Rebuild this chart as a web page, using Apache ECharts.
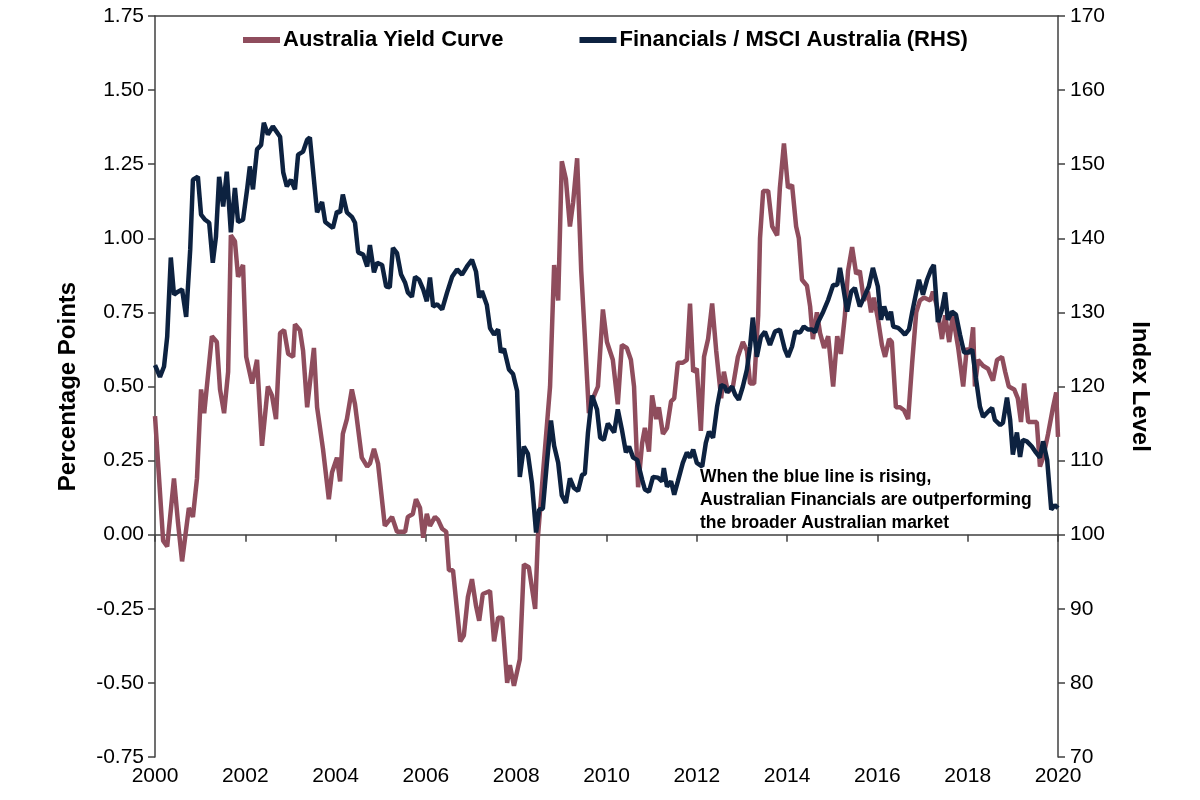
<!DOCTYPE html>
<html>
<head>
<meta charset="utf-8">
<script src="https://cdn.jsdelivr.net/npm/echarts@6/dist/echarts.min.js"></script>
<style>
html,body{margin:0;padding:0;background:#fff;}
#chart{width:1200px;height:800px;}
</style>
</head>
<body>
<div id="chart"></div>
<script>
// Australia Yield Curve (LHS, percentage points)
const yieldDates = [2000.00,2000.18,2000.27,2000.42,2000.51,2000.60,2000.75,2000.84,2000.93,2001.02,2001.09,2001.26,2001.37,2001.44,2001.53,2001.62,2001.68,2001.77,2001.84,2001.95,2002.02,2002.15,2002.26,2002.37,2002.50,2002.59,2002.68,2002.77,2002.86,2002.95,2003.06,2003.10,2003.21,2003.28,2003.37,2003.52,2003.59,2003.72,2003.85,2003.92,2004.03,2004.10,2004.16,2004.25,2004.36,2004.43,2004.58,2004.70,2004.76,2004.85,2004.94,2005.09,2005.25,2005.36,2005.54,2005.60,2005.71,2005.78,2005.87,2005.94,2006.02,2006.09,2006.20,2006.27,2006.36,2006.45,2006.51,2006.60,2006.76,2006.84,2006.93,2007.02,2007.11,2007.18,2007.26,2007.42,2007.51,2007.60,2007.69,2007.80,2007.86,2007.95,2008.08,2008.17,2008.28,2008.42,2008.48,2008.59,2008.75,2008.84,2008.93,2009.01,2009.10,2009.19,2009.26,2009.35,2009.44,2009.52,2009.61,2009.70,2009.81,2009.92,2010.01,2010.14,2010.25,2010.34,2010.45,2010.54,2010.61,2010.70,2010.79,2010.85,2010.94,2011.01,2011.10,2011.16,2011.25,2011.34,2011.43,2011.50,2011.58,2011.69,2011.78,2011.85,2011.92,2012.00,2012.09,2012.16,2012.25,2012.34,2012.43,2012.54,2012.60,2012.69,2012.80,2012.91,2013.02,2013.11,2013.18,2013.27,2013.36,2013.40,2013.47,2013.58,2013.67,2013.78,2013.84,2013.93,2014.02,2014.11,2014.20,2014.26,2014.33,2014.44,2014.51,2014.57,2014.66,2014.73,2014.82,2014.91,2015.02,2015.11,2015.19,2015.28,2015.35,2015.44,2015.53,2015.61,2015.70,2015.79,2015.86,2015.92,2016.01,2016.10,2016.17,2016.26,2016.32,2016.41,2016.50,2016.59,2016.68,2016.77,2016.86,2016.94,2017.03,2017.17,2017.23,2017.32,2017.43,2017.50,2017.59,2017.67,2017.79,2017.90,2017.98,2018.05,2018.12,2018.16,2018.23,2018.34,2018.45,2018.56,2018.65,2018.76,2018.83,2018.91,2019.03,2019.11,2019.18,2019.25,2019.34,2019.45,2019.53,2019.60,2019.67,2019.78,2019.89,2019.96,2020.00];
const yieldValues = [0.40,-0.02,-0.04,0.19,0.04,-0.09,0.09,0.06,0.19,0.49,0.41,0.67,0.65,0.49,0.41,0.55,1.01,0.99,0.87,0.91,0.60,0.51,0.59,0.30,0.50,0.47,0.39,0.68,0.69,0.61,0.60,0.71,0.69,0.62,0.43,0.63,0.43,0.29,0.12,0.21,0.26,0.18,0.34,0.39,0.49,0.44,0.26,0.23,0.24,0.29,0.24,0.03,0.06,0.01,0.01,0.06,0.07,0.12,0.09,-0.01,0.07,0.03,0.06,0.05,0.02,0.01,-0.12,-0.12,-0.36,-0.34,-0.21,-0.15,-0.24,-0.29,-0.20,-0.19,-0.36,-0.28,-0.28,-0.50,-0.44,-0.51,-0.42,-0.10,-0.11,-0.25,-0.01,0.20,0.50,0.91,0.79,1.26,1.20,1.04,1.12,1.27,0.89,0.67,0.41,0.46,0.50,0.76,0.65,0.59,0.44,0.64,0.63,0.59,0.50,0.16,0.31,0.36,0.28,0.47,0.39,0.43,0.34,0.36,0.45,0.46,0.58,0.58,0.59,0.78,0.55,0.56,0.35,0.60,0.66,0.78,0.62,0.46,0.55,0.48,0.50,0.60,0.65,0.62,0.51,0.51,0.74,1.00,1.16,1.16,1.04,1.01,1.17,1.32,1.17,1.18,1.04,1.00,0.86,0.84,0.77,0.66,0.75,0.68,0.63,0.67,0.50,0.67,0.61,0.74,0.89,0.97,0.88,0.89,0.79,0.82,0.75,0.80,0.73,0.64,0.60,0.66,0.65,0.43,0.43,0.42,0.39,0.58,0.75,0.79,0.80,0.79,0.82,0.77,0.66,0.74,0.65,0.74,0.63,0.50,0.63,0.61,0.70,0.50,0.59,0.57,0.56,0.52,0.59,0.60,0.55,0.50,0.49,0.46,0.38,0.51,0.38,0.38,0.38,0.23,0.26,0.34,0.43,0.48,0.33];

// Financials / MSCI Australia (RHS, index level)
const finDates = [2000.00,2000.11,2000.20,2000.27,2000.35,2000.42,2000.51,2000.60,2000.69,2000.78,2000.84,2000.95,2001.02,2001.11,2001.20,2001.28,2001.35,2001.42,2001.51,2001.55,2001.59,2001.68,2001.77,2001.84,2001.95,2002.04,2002.10,2002.17,2002.26,2002.35,2002.41,2002.50,2002.61,2002.77,2002.84,2002.92,2003.01,2003.10,2003.17,2003.28,2003.37,2003.43,2003.59,2003.70,2003.77,2003.94,2004.03,2004.10,2004.16,2004.25,2004.36,2004.43,2004.50,2004.61,2004.70,2004.76,2004.85,2004.92,2005.03,2005.12,2005.20,2005.27,2005.36,2005.45,2005.54,2005.60,2005.69,2005.76,2005.85,2005.94,2006.02,2006.09,2006.16,2006.25,2006.36,2006.47,2006.58,2006.69,2006.80,2006.91,2007.02,2007.11,2007.18,2007.24,2007.35,2007.42,2007.51,2007.60,2007.66,2007.73,2007.84,2007.93,2008.02,2008.08,2008.17,2008.26,2008.35,2008.44,2008.51,2008.59,2008.68,2008.77,2008.84,2008.93,2009.01,2009.10,2009.19,2009.28,2009.37,2009.46,2009.52,2009.59,2009.68,2009.79,2009.86,2009.94,2010.03,2010.17,2010.25,2010.34,2010.43,2010.50,2010.59,2010.68,2010.79,2010.85,2010.94,2011.03,2011.14,2011.23,2011.27,2011.34,2011.43,2011.50,2011.58,2011.69,2011.78,2011.85,2011.92,2012.00,2012.12,2012.20,2012.27,2012.36,2012.45,2012.54,2012.62,2012.67,2012.78,2012.85,2012.93,2013.02,2013.11,2013.18,2013.24,2013.33,2013.42,2013.51,2013.62,2013.73,2013.84,2013.95,2014.02,2014.11,2014.18,2014.29,2014.37,2014.46,2014.55,2014.62,2014.68,2014.80,2014.91,2015.02,2015.11,2015.17,2015.24,2015.33,2015.42,2015.50,2015.61,2015.70,2015.81,2015.90,2016.01,2016.08,2016.15,2016.24,2016.30,2016.35,2016.46,2016.55,2016.61,2016.70,2016.77,2016.86,2016.92,2017.01,2017.10,2017.19,2017.25,2017.34,2017.43,2017.50,2017.56,2017.65,2017.74,2017.83,2017.92,2018.01,2018.10,2018.18,2018.27,2018.34,2018.45,2018.54,2018.60,2018.72,2018.78,2018.87,2018.94,2019.00,2019.09,2019.16,2019.22,2019.31,2019.42,2019.51,2019.60,2019.67,2019.76,2019.85,2019.93,2020.00];
const finValues = [122.9,121.3,122.7,126.7,137.4,132.4,132.8,133.1,129.4,138.5,147.9,148.3,143.2,142.5,142.1,136.7,140.2,148.3,144.3,146.6,149.0,140.8,146.8,142.2,142.5,146.6,149.7,146.6,152.0,152.6,155.6,154.0,155.1,153.7,148.9,147.0,147.9,146.6,151.3,151.7,153.3,153.6,143.5,144.9,142.2,141.4,143.6,143.5,145.9,143.5,142.9,142.1,138.1,137.8,136.2,139.1,135.4,136.7,136.4,133.5,133.4,138.7,138.0,135.1,134.0,132.7,132.1,134.8,134.4,133.1,131.5,134.7,130.8,131.1,130.4,132.7,134.8,135.8,135.1,136.2,137.1,135.5,132.0,132.9,131.0,127.9,127.0,127.7,124.6,125.1,122.3,121.7,119.4,107.8,111.9,110.9,106.9,100.3,103.4,103.5,109.7,115.4,112.0,109.7,105.3,104.3,107.6,106.3,105.9,108.1,108.2,113.8,118.8,116.9,113.1,112.8,115.0,113.8,116.9,114.2,111.1,111.9,110.4,110.1,107.4,106.1,105.8,107.8,107.7,107.2,109.0,106.5,107.2,105.4,107.2,109.7,111.1,110.4,111.5,109.7,109.2,112.4,113.9,113.1,117.3,120.2,120.0,119.2,120.0,118.9,118.2,120.0,122.3,125.4,129.3,124.0,126.7,127.4,125.6,127.4,127.7,125.0,124.0,125.4,127.4,127.3,128.1,127.7,127.7,127.3,128.6,130.1,131.7,133.7,133.7,136.0,133.5,130.1,132.8,133.3,130.8,132.0,133.5,136.0,133.5,129.0,130.8,129.0,130.1,128.1,127.9,127.4,127.0,127.7,130.0,132.7,134.4,132.4,134.4,135.8,136.4,128.7,130.4,132.7,129.0,130.1,129.7,127.0,124.6,124.6,125.0,121.2,117.3,115.9,116.6,117.1,115.5,114.8,115.1,118.5,115.5,110.8,113.8,110.5,112.8,112.6,111.9,111.1,110.4,112.6,110.1,103.4,104.0,103.6];

const seriesNames = ['Australia Yield Curve', 'Financials / MSCI Australia (RHS)'];
const leftTicks = {min: -0.75, max: 1.75, step: 0.25};
const rightTicks = {min: 70, max: 170, step: 10};
const xTicks = {min: 2000, max: 2020, step: 2};
const noteLines = ['When the blue line is rising,', 'Australian Financials are outperforming', 'the broader Australian market'];

const FONT = '"Liberation Sans", Arial, sans-serif';
const AX = '#404040';
const RED = '#8f4d5d';
const BLUE = '#0d2240';

const pairs = (xs, ys) => xs.map((x, i) => [x, ys[i]]);

const chart = echarts.init(document.getElementById('chart'));
chart.setOption({
  animation: false,
  backgroundColor: '#fff',
  textStyle: {fontFamily: FONT},
  grid: {left: 155, right: 142, top: 16, bottom: 43, containLabel: false},
  legend: {
    left: 238, top: 24,
    itemGap: 76, itemWidth: 37, itemHeight: 6,
    icon: 'rect',
    textStyle: {fontFamily: FONT, fontSize: 22, fontWeight: 'bold', color: '#000', padding: [0, 0, 0, -2]},
    data: seriesNames
  },
  xAxis: [
    {type: 'value', min: xTicks.min, max: xTicks.max, interval: xTicks.step, position: 'bottom',
     axisLine: {show: false, onZero: false}, axisTick: {show: false}, splitLine: {show: false},
     axisLabel: {fontFamily: FONT, fontSize: 21, color: '#000', margin: 9, formatter: v => String(v)}},
    {type: 'value', min: xTicks.min, max: xTicks.max, interval: xTicks.step, position: 'bottom',
     axisLine: {show: true, onZero: true, onZeroAxisIndex: 0, lineStyle: {color: AX, width: 1.5}},
     axisTick: {show: true, inside: false, length: 7, lineStyle: {color: AX, width: 1.5}},
     axisLabel: {show: false}, splitLine: {show: false}},
    {type: 'value', min: xTicks.min, max: xTicks.max, interval: xTicks.step, position: 'top',
     axisLine: {show: true, onZero: false, lineStyle: {color: AX, width: 1.5}},
     axisTick: {show: false}, axisLabel: {show: false}, splitLine: {show: false}}
  ],
  yAxis: [
    {type: 'value', min: leftTicks.min, max: leftTicks.max, interval: leftTicks.step, position: 'left',
     name: 'Percentage Points', nameLocation: 'middle', nameGap: 75,
     nameTextStyle: {fontFamily: FONT, fontSize: 24, fontWeight: 'bold', color: '#000'},
     axisLine: {show: true, onZero: false, lineStyle: {color: AX, width: 1.5}},
     axisTick: {show: true, inside: false, length: 7, lineStyle: {color: AX, width: 1.5}},
     splitLine: {show: false},
     axisLabel: {fontFamily: FONT, fontSize: 21, color: '#000', margin: 11, formatter: v => v.toFixed(2)}},
    {type: 'value', min: rightTicks.min, max: rightTicks.max, interval: rightTicks.step, position: 'right',
     name: 'Index Level', nameLocation: 'middle', nameGap: 70, nameRotate: -90,
     nameTextStyle: {fontFamily: FONT, fontSize: 24, fontWeight: 'bold', color: '#000'},
     axisLine: {show: true, onZero: false, lineStyle: {color: AX, width: 1.5}},
     axisTick: {show: true, inside: false, length: 7, lineStyle: {color: AX, width: 1.5}},
     splitLine: {show: false},
     axisLabel: {fontFamily: FONT, fontSize: 21, color: '#000', margin: 12, formatter: v => String(v)}}
  ],
  graphic: [{
    type: 'text', left: 700, top: 466,
    style: {text: noteLines.join('\n'), fontFamily: FONT, fontSize: 17.5, fontWeight: 'bold',
            fill: '#000', lineHeight: 23}
  }],
  series: [
    {name: seriesNames[0], type: 'line', xAxisIndex: 0, yAxisIndex: 0, showSymbol: false,
     data: pairs(yieldDates, yieldValues), lineStyle: {color: RED, width: 4.5}, itemStyle: {color: RED}, z: 2},
    {name: seriesNames[1], type: 'line', xAxisIndex: 0, yAxisIndex: 1, showSymbol: false,
     data: pairs(finDates, finValues), lineStyle: {color: BLUE, width: 4.5}, itemStyle: {color: BLUE}, z: 3}
  ]
});
</script>
</body>
</html>
